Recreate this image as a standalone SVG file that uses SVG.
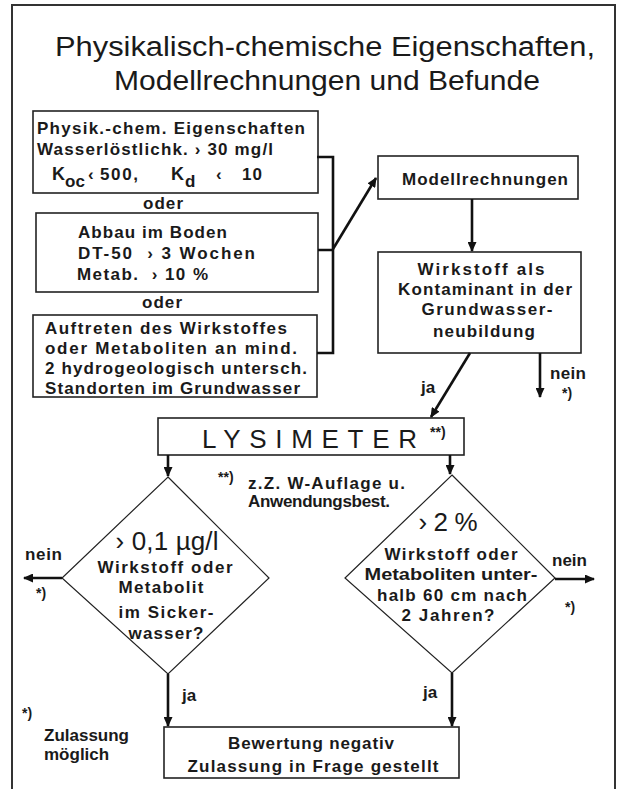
<svg xmlns="http://www.w3.org/2000/svg" width="619" height="789" viewBox="0 0 619 789">
  <style>
    text { font-family: "Liberation Sans", Arial, sans-serif; fill: #1a1a1a; }
    .title { font-size: 27px; }
    .b { font-size: 17px; font-weight: bold; }
    .big { font-size: 26px; }
    .fn { font-size: 14px; font-weight: bold; }
    .box { fill: #fff; stroke: #222; stroke-width: 1.6; }
    .dia { fill: #fff; stroke: #222; stroke-width: 1.2; }
    .con { fill: none; stroke: #111; stroke-width: 2.6; }
    .arr { fill: none; stroke: #111; stroke-width: 2.6; marker-end: url(#ah); }
  </style>
  <defs>
    <marker id="ah" markerUnits="userSpaceOnUse" markerWidth="10" markerHeight="9" refX="9" refY="4.5" orient="auto">
      <path d="M0,0 L10,4.5 L0,9 z" fill="#111"/>
    </marker>
  </defs>

  <rect width="619" height="789" fill="#fff"/>
  <!-- page frame -->
  <path d="M12,789 V5 H615 V789" fill="none" stroke="#333" stroke-width="2"/>

  <g id="title">
    <text class="title" x="325" y="56" text-anchor="middle" textLength="540" lengthAdjust="spacingAndGlyphs">Physikalisch-chemische Eigenschaften,</text>
    <text class="title" x="327" y="90" text-anchor="middle" textLength="426" lengthAdjust="spacingAndGlyphs">Modellrechnungen und Befunde</text>
  </g>

  <g id="n-physchem">
    <rect class="box" x="33" y="111" width="285" height="82"/>
    <text class="b" x="37" y="134" textLength="268">Physik.-chem. Eigenschaften</text>
    <text class="b" x="37" y="155" textLength="236">Wasserlöstlichk. › 30 mg/l</text>
    <text class="b" x="52" y="180" style="font-size:18px">K</text>
    <text class="b" x="65" y="187">oc</text>
    <text class="b" x="88" y="180">‹</text>
    <text class="b" x="100" y="180" textLength="38">500,</text>
    <text class="b" x="171" y="180" style="font-size:18px">K</text>
    <text class="b" x="185" y="187">d</text>
    <text class="b" x="216" y="180">‹</text>
    <text class="b" x="242" y="180" textLength="20">10</text>
  </g>

  <text class="b" x="163" y="209" text-anchor="middle" textLength="40">oder</text>

  <g id="n-abbau">
    <rect class="box" x="36" y="213" width="282" height="79"/>
    <text class="b" x="78" y="238" textLength="149">Abbau im Boden</text>
    <text class="b" x="78" y="259" textLength="177" xml:space="preserve">DT-50  › 3 Wochen</text>
    <text class="b" x="77" y="280" textLength="131" xml:space="preserve">Metab.  › 10 %</text>
  </g>

  <text class="b" x="162" y="308" text-anchor="middle" textLength="40">oder</text>

  <g id="n-befund">
    <rect class="box" x="33" y="315" width="284" height="82"/>
    <text class="b" x="45" y="334" textLength="242">Auftreten des Wirkstoffes</text>
    <text class="b" x="45" y="354" textLength="252">oder Metaboliten an mind.</text>
    <text class="b" x="45" y="374" textLength="262">2 hydrogeologisch untersch.</text>
    <text class="b" x="45" y="394" textLength="255">Standorten im Grundwasser</text>
  </g>

  <g id="n-modell">
    <rect class="box" x="378" y="156" width="200" height="43"/>
    <text class="b" x="485" y="185" text-anchor="middle" textLength="166">Modellrechnungen</text>
  </g>

  <g id="n-kontaminant">
    <rect class="box" x="378" y="252" width="203" height="101"/>
    <text class="b" x="481" y="275" text-anchor="middle" textLength="127">Wirkstoff als</text>
    <text class="b" x="485" y="295" text-anchor="middle" textLength="174">Kontaminant in der</text>
    <text class="b" x="487" y="315" text-anchor="middle" textLength="131">Grundwasser-</text>
    <text class="b" x="484" y="337" text-anchor="middle" textLength="102">neubildung</text>
  </g>

  <g id="n-lysimeter">
    <rect class="box" x="158" y="418" width="306" height="37"/>
    <text class="big" x="202" y="448" textLength="215">LYSIMETER</text>
    <text class="fn" x="430" y="437">**)</text>
  </g>

  <g id="note-lysimeter">
    <text class="fn" x="218" y="482">**)</text>
    <text class="b" x="248" y="489" textLength="157">z.Z. W-Auflage u.</text>
    <text class="b" x="248" y="507" textLength="142">Anwendungsbest.</text>
  </g>

  <g id="n-sickerwasser">
    <polygon class="dia" points="168,477 269,578 168,674 62,578"/>
    <text class="big" x="167" y="550" text-anchor="middle" textLength="103">› 0,1 µg/l</text>
    <text class="b" x="165" y="573" text-anchor="middle" textLength="135">Wirkstoff oder</text>
    <text class="b" x="161" y="593" text-anchor="middle" textLength="85">Metabolit</text>
    <text class="b" x="166" y="618" text-anchor="middle" textLength="95">im Sicker-</text>
    <text class="b" x="166" y="639" text-anchor="middle" textLength="75">wasser?</text>
  </g>

  <g id="n-tiefe">
    <polygon class="dia" points="452,475 555,578 452,673 345,578"/>
    <text class="big" x="448" y="531" text-anchor="middle" textLength="59">› 2 %</text>
    <text class="b" x="451" y="560" text-anchor="middle" textLength="133">Wirkstoff oder</text>
    <text class="b" x="451" y="580" text-anchor="middle" textLength="173" lengthAdjust="spacingAndGlyphs">Metaboliten unter-</text>
    <text class="b" x="452" y="601" text-anchor="middle" textLength="150">halb 60 cm nach</text>
    <text class="b" x="448" y="621" text-anchor="middle" textLength="93">2 Jahren?</text>
  </g>

  <g id="n-bewertung">
    <rect class="box" x="164" y="727" width="295" height="51"/>
    <text class="b" x="311" y="749" text-anchor="middle" textLength="166">Bewertung negativ</text>
    <text class="b" x="313" y="772" text-anchor="middle" textLength="251">Zulassung in Frage gestellt</text>
  </g>

  <g id="note-zulassung">
    <text class="fn" x="22" y="718">*)</text>
    <text class="b" x="44" y="741">Zulassung</text>
    <text class="b" x="44" y="760">möglich</text>
  </g>

  <g id="connectors">
    <path class="con" d="M317,157 H333 V353 H317 M318,250 H333"/>
    <path class="arr" d="M333,249 L376,178"/>
    <path class="arr" d="M472,199 V251"/>
    <path class="arr" d="M470,353 L431,417"/>
    <path class="arr" d="M540,353 V397"/>
    <path class="arr" d="M168,455 V476"/>
    <path class="arr" d="M450,455 V474"/>
    <path class="arr" d="M62,578 H24"/>
    <path class="arr" d="M555,579 H594"/>
    <path class="arr" d="M168,674 V726"/>
    <path class="arr" d="M452,673 V726"/>
  </g>

  <g id="labels">
    <text class="b" x="421" y="393">ja</text>
    <text class="b" x="550" y="379" textLength="36">nein</text>
    <text class="fn" x="562" y="398">*)</text>
    <text class="b" x="25" y="560" textLength="37">nein</text>
    <text class="fn" x="36" y="598">*)</text>
    <text class="b" x="552" y="566" textLength="35">nein</text>
    <text class="fn" x="565" y="612">*)</text>
    <text class="b" x="182" y="701">ja</text>
    <text class="b" x="423" y="698">ja</text>
  </g>
</svg>
